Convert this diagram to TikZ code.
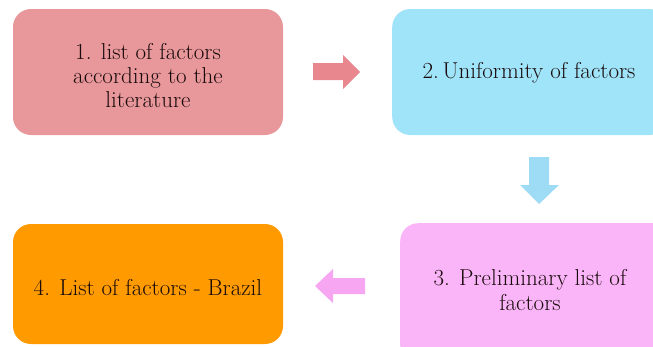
\documentclass[tikz,border=0pt]{standalone}
\definecolor{cA}{HTML}{E8979B}
\definecolor{cB}{HTML}{A0E4FA}
\definecolor{cC}{HTML}{FAB4F8}
\definecolor{cD}{HTML}{FF9A00}
\definecolor{aA}{HTML}{E8878E}
\definecolor{aB}{HTML}{9EDCF5}
\definecolor{aC}{HTML}{F7A6F2}
\definecolor{txt}{HTML}{1A0C0C}
\begin{document}
\begin{tikzpicture}[x=1pt,y=-1pt,
  box/.style={draw=none, rounded corners=18pt, inner sep=0pt},
  lbl/.style={text=txt, align=center, inner sep=0pt, font=\fontsize{23}{24}\selectfont}]
\useasboundingbox (0,0) rectangle (653,346);
\clip (0,0) rectangle (653,346);
\node[box, fill=cA, minimum width=270pt, minimum height=126pt] (b1) at (148,72) {};
\node[lbl] (t1) at (148,76) {1. list of factors\\according to the\\literature};
\node[box, fill=cB, minimum width=275pt, minimum height=126pt, anchor=west] (b2) at (392,72) {};
\node[lbl] (t2) at (529,73) {2.\,Uniformity of factors};
\node[box, fill=cC, minimum width=275pt, minimum height=140pt, anchor=north west] (b3) at (400,223) {};
\node[lbl, font=\fontsize{23}{25}\selectfont] (t3) at (530,290) {3. Preliminary list of\\factors};
\node[box, fill=cD, minimum width=270pt, minimum height=120pt] (b4) at (148,284) {};
\node[lbl] (t4) at (148,288) {4. List of factors - Brazil};
% block arrows
\fill[aA] (313,63) -- (343,63) -- (343,55) -- (360,72) -- (343,89) -- (343,80) -- (313,80) -- cycle;
\fill[aB] (529,157) -- (549,157) -- (549,185) -- (559,185) -- (539,204) -- (520,185) -- (529,185) -- cycle;
\fill[aC] (365,278) -- (333,278) -- (333,269) -- (315,286) -- (333,303) -- (333,294) -- (365,294) -- cycle;
\end{tikzpicture}
\end{document}
